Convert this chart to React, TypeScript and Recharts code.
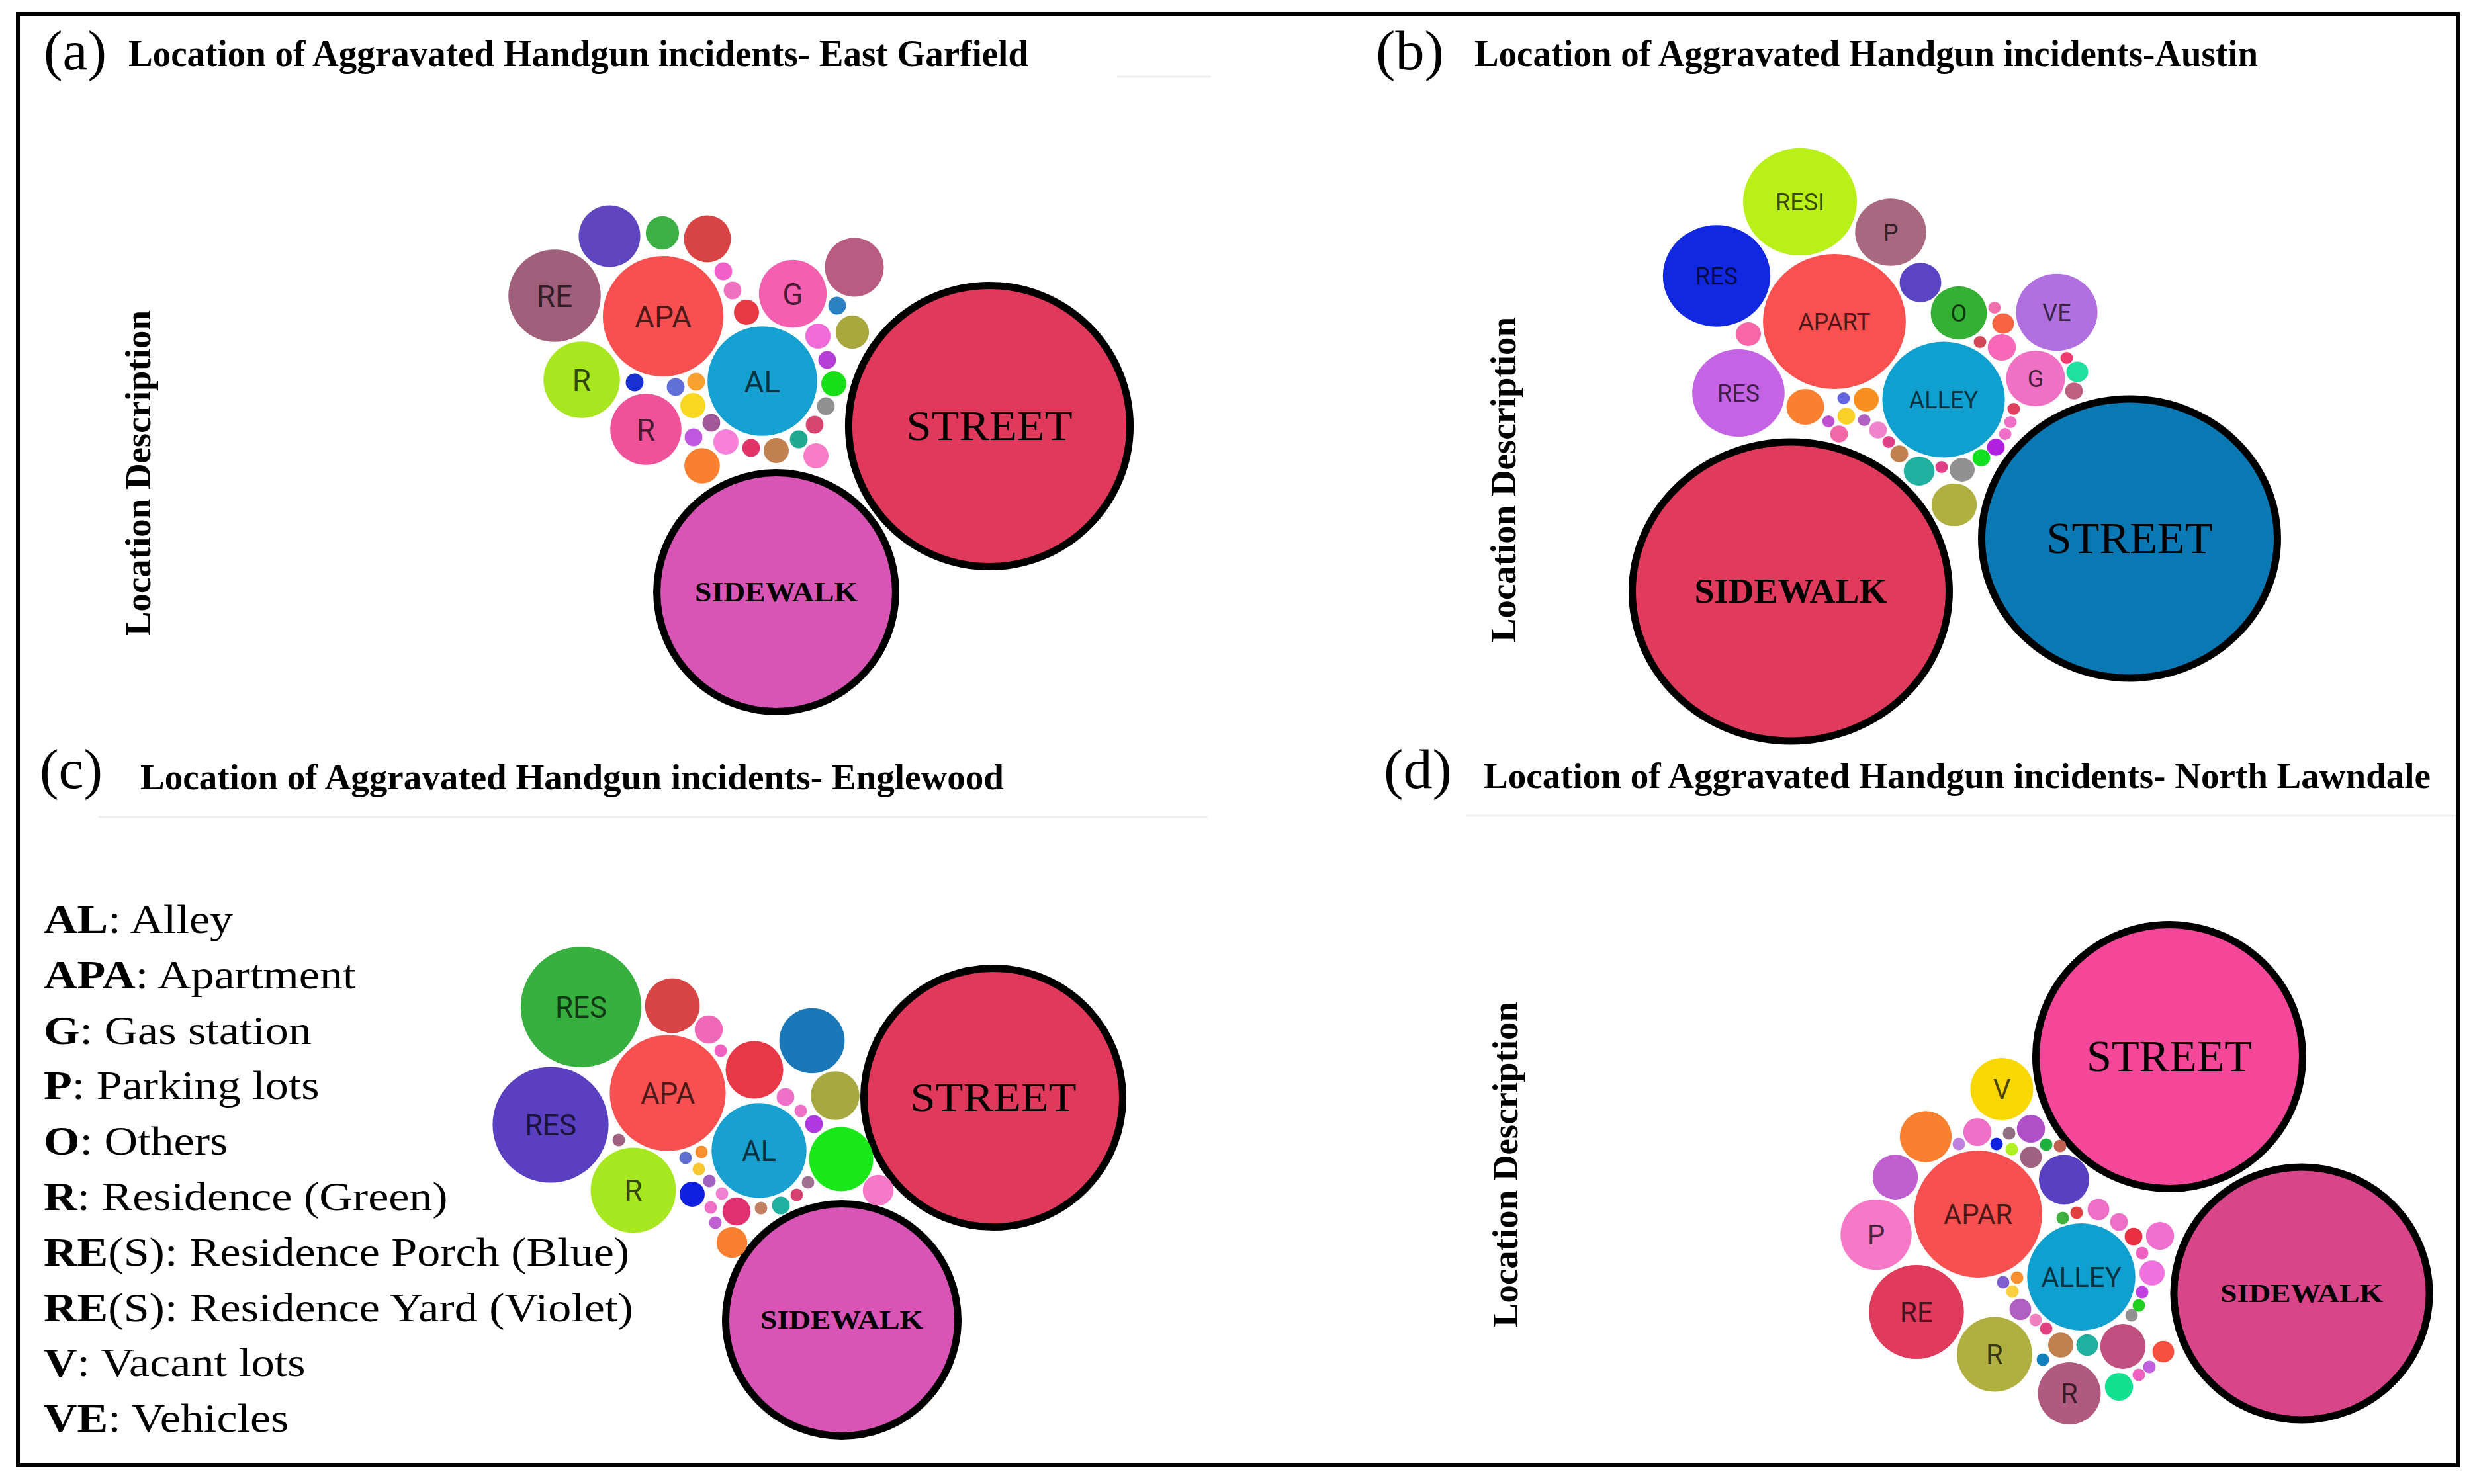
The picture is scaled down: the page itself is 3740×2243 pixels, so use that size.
import React from 'react';
import { ScatterChart, Scatter, XAxis, YAxis, ZAxis } from 'recharts';

// ---------- DATA ----------
// Panel (a) East Garfield
const labelsA = ['STREET', 'SIDEWALK', 'APA', 'AL', 'RE', 'R', 'R', 'G', '', '', '', '', '', '', '', '', '', '', '', '', '', '', '', '', '', '', '', '', '', '', '', '', '', ''];
const xA = [795, 473, 302, 452, 138, 179, 276, 498, 221, 301, 369, 591, 565, 588, 536, 550, 560, 548, 531, 533, 507, 473, 435, 397, 361, 348, 375, 347, 352, 321, 259, 428, 407, 393];
const yA = [384, 635, 218, 316, 187, 314, 389, 184, 97, 92, 101, 144, 202, 242, 248, 284, 320, 354, 382, 429, 404, 421, 417, 408, 444, 401, 379, 353, 317, 325, 318, 212, 179, 150];
const valuesA = [527, 383, 92, 76, 54, 37, 32, 29, 24, 7, 14, 22, 2, 7, 4, 2, 4, 2, 2, 4, 2, 4, 2, 4, 8, 2, 2, 4, 2, 2, 2, 4, 2, 2];
const colorsA = ['#e0395c', '#d955b5', '#f85050', '#14a0d0', '#a0607c', '#a8e620', '#f0529a', '#f45fb0', '#6045c0', '#3cb044', '#d84444', '#b85c82', '#2a80c0', '#a8a83c', '#f06ad8', '#b440d8', '#18e018', '#909090', '#d84470', '#f87cc8', '#20a890', '#c08050', '#e03468', '#f880d8', '#f88030', '#c058e0', '#a05898', '#f8d820', '#f8a030', '#6070d8', '#1830d0', '#e83844', '#f070c0', '#f060c8'];

// Panel (b) Austin
const labelsB = ['STREET', 'SIDEWALK', 'APART', 'ALLEY', 'RESI', 'RES', 'RES', 'P', 'VE', 'G', 'O', '', '', '', '', '', '', '', '', '', '', '', '', '', '', '', '', '', '', '', '', '', '', '', '', '', '', '', ''];
const xB = [818, 306, 372, 537, 320, 194, 227, 457, 708, 676, 560, 502, 553, 500, 565, 594, 616, 630, 638, 643, 625, 627, 614, 592, 723, 739, 734, 242, 328, 420, 390, 386, 417, 438, 454, 470, 534, 379, 363];
const yB = [634, 714, 306, 424, 125, 237, 414, 171, 292, 392, 293, 247, 583, 532, 530, 512, 496, 476, 458, 438, 345, 309, 285, 337, 361, 382, 411, 325, 435, 424, 449, 422, 455, 470, 488, 506, 526, 476, 457];
const valuesB = [581, 665, 129, 95, 82, 73, 54, 32, 42, 22, 20, 11, 13, 6, 4, 2, 2, 1, 1, 1, 5, 3, 1, 1, 1, 3, 2, 4, 9, 4, 2, 1, 1, 2, 1, 2, 1, 2, 1];
const colorsB = ['#0a78b2', '#e03a5c', '#fa5050', '#10a0d0', '#b8f018', '#1228e0', '#c464e4', '#a86880', '#b070e0', '#f070c4', '#34b034', '#5a44c4', '#b0b040', '#20b0a0', '#909090', '#10e020', '#b020e0', '#f070c8', '#f070c8', '#e04060', '#f868b8', '#f86444', '#f070b0', '#d04858', '#f03c70', '#20e0a0', '#c06080', '#f868a8', '#f88030', '#f89020', '#f8d028', '#6464e0', '#b060c0', '#f084cc', '#e04088', '#c08050', '#e04088', '#f068a8', '#c050d0'];

// Panel (c) Englewood
const labelsC = ['STREET', 'SIDEWALK', 'APA', 'AL', 'RES', 'RES', 'R', '', '', '', '', '', '', '', '', '', '', '', '', '', '', '', '', '', '', '', '', '', '', '', '', '', ''];
const xC = [801, 572, 309, 447, 178, 132, 257, 571, 527, 440, 316, 562, 627, 371, 389, 487, 510, 530, 521, 504, 480, 450, 413, 374, 391, 381, 406, 346, 372, 356, 360, 336, 235];
const yC = [279, 615, 272, 359, 142, 320, 419, 372, 193, 237, 140, 276, 419, 176, 208, 278, 299, 319, 407, 426, 442, 446, 451, 445, 424, 468, 498, 425, 405, 387, 361, 370, 343];
const valuesC = [448, 363, 85, 57, 92, 85, 46, 26, 27, 21, 19, 15, 6, 5, 1, 2, 1, 2, 1, 1, 2, 1, 5, 1, 1, 1, 6, 4, 1, 1, 1, 1, 1];
const colorsC = ['#e0395c', '#d955b5', '#f85050', '#18a0d0', '#38b040', '#5a40c0', '#a8e820', '#18e818', '#1a78b8', '#e83848', '#d84444', '#a8a840', '#f878c8', '#f068b8', '#f060c0', '#f070c8', '#f070c8', '#b038e0', '#a07090', '#d84070', '#20b0a0', '#c08060', '#e03070', '#f070c8', '#f080d0', '#c060d0', '#f88030', '#1020e0', '#a060c0', '#f8c830', '#f89030', '#6070d0', '#a06080'];

// Panel (d) North Lawndale
const labelsD = ['STREET', 'SIDEWALK', 'APAR', 'ALLEY', 'RE', 'R', 'R', 'P', 'V', '', '', '', '', '', '', '', '', '', '', '', '', '', '', '', '', '', '', '', '', '', '', '', '', '', '', '', '', '', '', '', '', '', '', '', '', ''];
const xD = [538, 738, 249, 405, 156, 274, 387, 95, 285, 170, 124, 379, 248, 329, 329, 296, 277, 300, 352, 373, 220, 398, 377, 431, 462, 484, 524, 497, 512, 497, 492, 481, 468, 529, 508, 492, 462, 414, 374, 347, 352, 336, 313, 301, 308, 287];
const yD = [257, 615, 495, 590, 643, 707, 766, 526, 306, 378, 439, 443, 371, 366, 409, 373, 389, 397, 390, 392, 389, 493, 501, 488, 507, 529, 528, 554, 584, 613, 633, 648, 695, 703, 726, 738, 756, 693, 693, 715, 668, 655, 639, 612, 591, 598];
const valuesD = [475, 437, 104, 74, 57, 36, 25, 32, 25, 17, 13, 16, 5, 5, 3, 1, 1, 1, 1, 1, 1, 1, 1, 3, 2, 2, 5, 1, 4, 1, 1, 1, 13, 3, 1, 1, 5, 3, 4, 1, 1, 1, 3, 1, 1, 1];
const colorsD = ['#f5479a', '#d84589', '#f85050', '#10a0d0', '#e03a5c', '#b0b040', '#b05a80', '#f878c8', '#f8d800', '#f88030', '#c060d0', '#5840c0', '#f070c8', '#b050c8', '#a06080', '#907080', '#1020e0', '#b0f020', '#20b040', '#c06050', '#c080e0', '#e04040', '#40b040', '#f070c8', '#f070c8', '#e83040', '#f070d0', '#f060c0', '#f070e0', '#c040e0', '#20d020', '#909090', '#c05080', '#f85040', '#c060e0', '#f060c0', '#10e090', '#20b0a0', '#c08050', '#1080c0', '#e04080', '#f080c0', '#b060c0', '#f8d040', '#f89030', '#8060d0'];

const titles = [
  'Location of Aggravated Handgun incidents- East Garfield',
  'Location of Aggravated Handgun incidents-Austin',
  'Location of Aggravated Handgun incidents- Englewood',
  'Location of Aggravated Handgun incidents- North Lawndale',
];
const panelTags = ['(a)', '(b)', '(c)', '(d)'];
const axisLabel = 'Location Description';
const legendCodes = ['AL', 'APA', 'G', 'P', 'O', 'R', 'RE(S)', 'RE(S)', 'V', 'VE'];
const legendNames = ['Alley', 'Apartment', 'Gas station', 'Parking lots', 'Others', 'Residence (Green)', 'Residence Porch (Blue)', 'Residence Yard (Violet)', 'Vacant lots', 'Vehicles'];

// ---------- LAYOUT / STYLE ----------
const K = 9.5; // px radius per sqrt(count)
const VMAX = 1000;
const SERIF = '"Liberation Serif", "Times New Roman", Times, serif';
const SANS = 'Roboto, "Liberation Sans", Arial, sans-serif';

const build = (labels: string[], xs: number[], ys: number[], vs: number[], cs: string[]) =>
  labels.map((label, i) => ({ label, x: xs[i], y: ys[i], v: vs[i], color: cs[i] }));

const panels = [
  { key: 'a', data: build(labelsA, xA, yA, valuesA, colorsA), box: { left: 700, top: 260, w: 1100, h: 860 },
    style: { small: 46, street: 64, streetLen: 251, side: 42, sideLen: 246, aspect: 1 } },
  { key: 'b', data: build(labelsB, xB, yB, valuesB, colorsB), box: { left: 2400, top: 180, w: 1200, h: 980 },
    style: { small: 36, street: 67, streetLen: 251, side: 53, sideLen: 291, aspect: 0.945 } },
  { key: 'c', data: build(labelsC, xC, yC, valuesC, colorsC), box: { left: 700, top: 1380, w: 1100, h: 830 },
    style: { small: 44, street: 62, streetLen: 251, side: 39, sideLen: 246, aspect: 1 } },
  { key: 'd', data: build(labelsD, xD, yD, valuesD, colorsD), box: { left: 2740, top: 1340, w: 980, h: 860 },
    style: { small: 42, street: 68, streetLen: 250, side: 40, sideLen: 246, aspect: 0.99 } },
];

const titlePos = [
  { x: 194, y: 100, len: 1360, fs: 56 },
  { x: 2228, y: 100, len: 1184, fs: 56 },
  { x: 212, y: 1193, len: 1305, fs: 54 },
  { x: 2242, y: 1191, len: 1431, fs: 55 },
];
const tagPos = [
  { x: 66, y: 105 },
  { x: 2079, y: 105 },
  { x: 60, y: 1191 },
  { x: 2091, y: 1191 },
];
const axisLabelPos = [
  { x: 227, y: 715 },
  { x: 2290, y: 725 },
  { x: 2293, y: 1760 },
];

const makeShape = (style: any) => (props: any) => {
  const { cx, cy, payload } = props;
  if (cx == null || cy == null || !payload) return <g />;
  const size = typeof props.size === 'number' ? props.size : Math.PI * Math.pow((props.width || 8) / 2, 2);
  const r = Math.sqrt(size / Math.PI);
  const label: string = payload.label;
  const major = label === 'STREET' || label === 'SIDEWALK';
  const sw = 11;
  const rx = major ? r - sw / 2 : r;
  const ry = major ? r * style.aspect - sw / 2 : r * style.aspect;
  return (
    <g>
      <ellipse cx={cx} cy={cy} rx={rx} ry={ry} fill={payload.color} stroke={major ? '#000' : 'none'} strokeWidth={major ? sw : 0} />
      {label === 'STREET' && (
        <text x={cx} y={cy} dy="0.33em" textAnchor="middle" fontFamily={SERIF} fontSize={style.street} fill="#000"
          textLength={style.streetLen} lengthAdjust="spacingAndGlyphs">{label}</text>
      )}
      {label === 'SIDEWALK' && (
        <text x={cx} y={cy} dy="0.33em" textAnchor="middle" fontFamily={SERIF} fontWeight="bold" fontSize={style.side} fill="#000"
          textLength={style.sideLen} lengthAdjust="spacingAndGlyphs">{label}</text>
      )}
      {!major && label !== '' && (
        <text x={cx} y={cy} dy="0.36em" textAnchor="middle" fontFamily={SANS} fontSize={style.small} fill="rgba(0,0,0,0.7)">{label}</text>
      )}
    </g>
  );
};

const BubblePanel = ({ panel }: { panel: any }) => {
  const { box, data, style } = panel;
  return (
    <div style={{ position: 'absolute', left: box.left, top: box.top, width: box.w, height: box.h }}>
      <ScatterChart width={box.w} height={box.h} margin={{ top: 0, right: 0, bottom: 0, left: 0 }}>
        <XAxis type="number" dataKey="x" domain={[0, box.w]} hide />
        <YAxis type="number" dataKey="y" domain={[0, box.h]} reversed hide />
        <ZAxis type="number" dataKey="v" domain={[0, VMAX]} range={[0, Math.PI * K * K * VMAX]} />
        <Scatter data={data} shape={makeShape(style)} isAnimationActive={false} />
      </ScatterChart>
    </div>
  );
};

export default function App() {
  return (
    <div style={{ position: 'absolute', left: 0, top: 0, width: 3740, height: 2243, background: '#fff', overflow: 'hidden' }}>
      {panels.map((p) => (
        <BubblePanel key={p.key} panel={p} />
      ))}
      <svg width={3740} height={2243} style={{ position: 'absolute', left: 0, top: 0, pointerEvents: 'none' }}>
        <line x1={1688} y1={116} x2={1830} y2={116} stroke="#eeeeee" strokeWidth={3} />
        <line x1={149} y1={1235} x2={1825} y2={1235} stroke="#f0f0f0" strokeWidth={3} />
        <line x1={2216} y1={1233} x2={3712} y2={1233} stroke="#f0f0f0" strokeWidth={3} />
        <rect x={27} y={21} width={3687} height={2194} fill="none" stroke="#000" strokeWidth={6} />
        {panelTags.map((t, i) => (
          <text key={t} x={tagPos[i].x} y={tagPos[i].y} fontFamily={SERIF} fontSize={85} fill="#000"
            textLength={i % 2 === 0 ? 95 : 103} lengthAdjust="spacingAndGlyphs">{t}</text>
        ))}
        {titles.map((t, i) => (
          <text key={t} x={titlePos[i].x} y={titlePos[i].y} fontFamily={SERIF} fontWeight="bold" fontSize={titlePos[i].fs}
            fill="#000" textLength={titlePos[i].len} lengthAdjust="spacingAndGlyphs">{t}</text>
        ))}
        {axisLabelPos.map((p, i) => (
          <text key={i} transform={`translate(${p.x} ${p.y}) rotate(-90)`} x={0} y={0} textAnchor="middle"
            fontFamily={SERIF} fontWeight="bold" fontSize={55} fill="#000" textLength={492} lengthAdjust="spacingAndGlyphs">{axisLabel}</text>
        ))}
        <g transform="translate(66 0) scale(1.13 1)">
          {legendCodes.map((c, i) => {
            const boldPart = c.replace(/\(.*\)/, '');
            const rest = c.slice(boldPart.length);
            return (
              <text key={i} x={0} y={1410 + i * 83.8} fontFamily={SERIF} fontSize={62} fill="#000">
                <tspan fontWeight="bold">{boldPart}</tspan>
                <tspan>{rest + ': ' + legendNames[i]}</tspan>
              </text>
            );
          })}
        </g>
      </svg>
    </div>
  );
}
